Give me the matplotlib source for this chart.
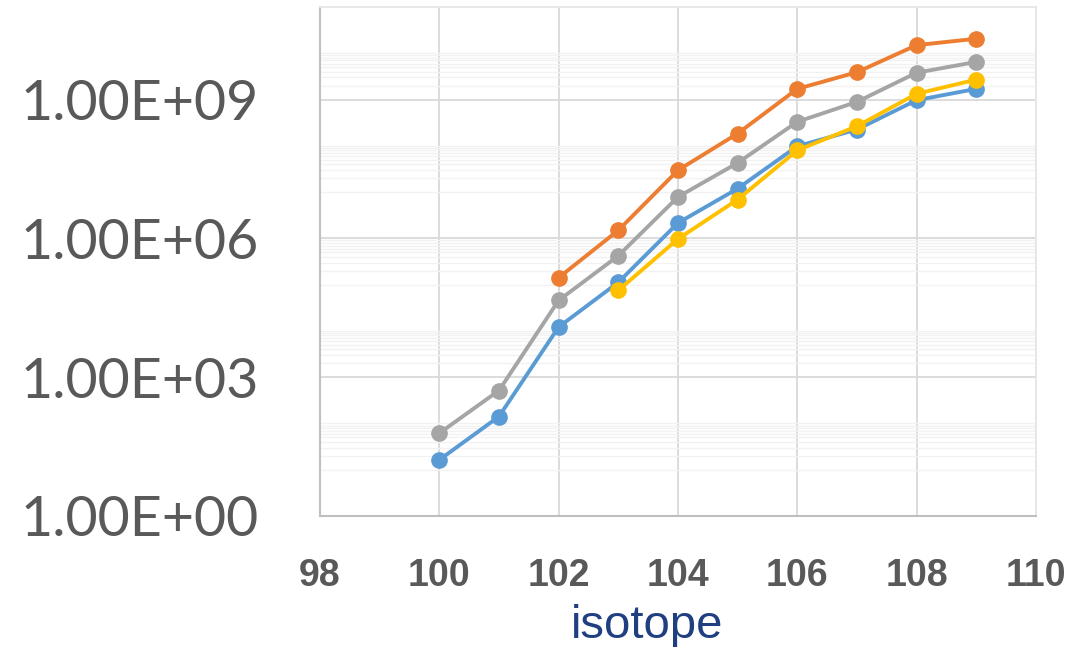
import numpy as np
import matplotlib
matplotlib.use('Agg')
import matplotlib.pyplot as plt
from matplotlib.ticker import FixedLocator, FuncFormatter, NullFormatter

# data
isotope_blue = [100, 101, 102, 103, 104, 105, 106, 107, 108, 109]
blue = [16.3, 141, 1.21e4, 1.12e5, 2.15e6, 1.19e7, 9.8e7, 2.25e8, 9.7e8, 1.7e9]

isotope_orange = [102, 103, 104, 105, 106, 107, 108, 109]
orange = [1.41e5, 1.49e6, 2.96e7, 1.84e8, 1.7e9, 3.9e9, 1.5e10, 2.06e10]

isotope_gray = [100, 101, 102, 103, 104, 105, 106, 107, 108, 109]
gray = [61.5, 514, 4.55e4, 4.2e5, 7.85e6, 4.27e7, 3.3e8, 8.9e8, 3.8e9, 6.5e9]

isotope_yellow = [103, 104, 105, 106, 107, 108, 109]
yellow = [7.5e4, 9.7e5, 6.9e6, 8.0e7, 2.65e8, 1.33e9, 2.7e9]

x_ticks = [98, 100, 102, 104, 106, 108, 110]
y_ticks = [1e0, 1e3, 1e6, 1e9]

fig = plt.figure(figsize=(10.89, 6.47), dpi=100)
ax = fig.add_axes([0.2938, 0.2025, 0.6575, 0.7867])

series = [
    (isotope_blue, blue, '#5B9BD5'),
    (isotope_orange, orange, '#ED7D31'),
    (isotope_gray, gray, '#A5A5A5'),
    (isotope_yellow, yellow, '#FFC000'),
]
for xs, ys, c in series:
    ax.plot(xs, ys, color=c, lw=2.8, marker='o', ms=11, zorder=3)

ax.set_yscale('log')
ax.set_ylim(1, 1e11)
ax.set_xlim(98, 110)

ax.yaxis.set_major_locator(FixedLocator(y_ticks))
ax.yaxis.set_major_formatter(FuncFormatter(lambda v, p: '%.2E' % v))
# excel-style minor gridlines
minor = [k * 10.0 ** e for e in (1, 3, 5, 7, 9) for k in range(1, 11)]
ax.yaxis.set_minor_locator(FixedLocator(minor))
ax.yaxis.set_minor_formatter(NullFormatter())
ax.xaxis.set_major_locator(FixedLocator(x_ticks))

ax.grid(True, which='major', color='#D9D9D9', lw=1.3, zorder=0)
ax.grid(True, which='minor', axis='y', color='#F2F2F2', lw=1.0, zorder=0)
ax.set_axisbelow(True)

for s in ['top', 'right']:
    ax.spines[s].set_color('#E6E6E6')
    ax.spines[s].set_linewidth(1.3)
for s in ['left', 'bottom']:
    ax.spines[s].set_color('#BFBFBF')
    ax.spines[s].set_linewidth(1.5)

ax.tick_params(axis='both', which='both', length=0)
ax.tick_params(axis='y', pad=44, labelsize=40, labelcolor='#595959')
ax.tick_params(axis='x', pad=30, labelsize=27, labelcolor='#595959')
for t in ax.get_yticklabels():
    t.set_family(['Lato', 'DejaVu Sans'])
for t in ax.get_xticklabels():
    t.set_family(['Liberation Sans', 'DejaVu Sans'])
    t.set_fontweight('bold')

fig.text(647 / 1089, 1 - 638 / 647, 'isotope', fontsize=34, color='#1F3F80',
         family=['Liberation Sans', 'DejaVu Sans'], ha='center', va='baseline')

fig.savefig('out.png', dpi=100)
